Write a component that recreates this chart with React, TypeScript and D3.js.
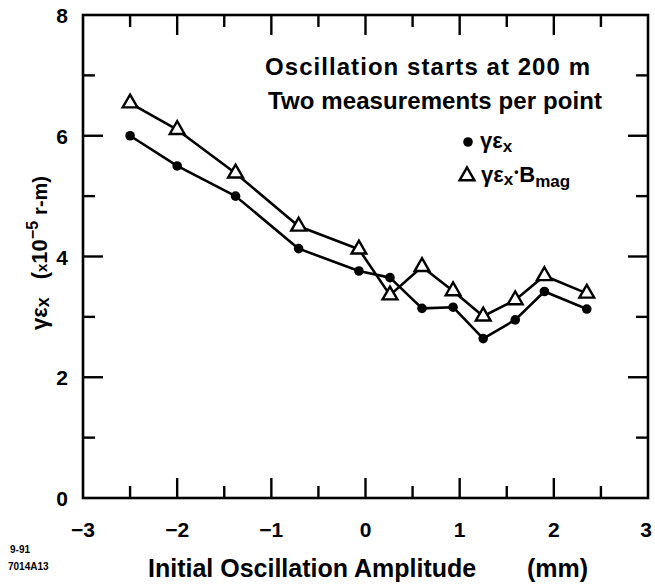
import React from "react";
import * as d3 from "d3";

const xValues = [-2.5, -2.0, -1.38, -0.71, -0.07, 0.26, 0.6, 0.93, 1.25, 1.59, 1.9, 2.35];
const emitValues = [6.0, 5.5, 5.0, 4.13, 3.76, 3.65, 3.14, 3.16, 2.64, 2.95, 3.42, 3.13];
const emitBmagValues = [6.54, 6.1, 5.38, 4.5, 4.12, 3.36, 3.83, 3.43, 3.01, 3.28, 3.68, 3.39];
const xTickLabels = ["−3", "−2", "−1", "0", "1", "2", "3"];
const yTickLabels = ["0", "2", "4", "6", "8"];
const xMajor = [-3, -2, -1, 0, 1, 2, 3];
const xMinor = [-2.5, -1.5, -0.5, 0.5, 1.5, 2.5];
const yMajor = [0, 2, 4, 6, 8];
const yMinor = [1, 3, 5, 7];

const W = 655;
const H = 584;
const L = 83, R = 648, T = 15, B = 498;
const FONT = "'Liberation Sans', Arial, Helvetica, sans-serif";

export default function App() {
  const x = d3.scaleLinear().domain([-3, 3]).range([L, R]);
  const y = d3.scaleLinear().domain([0, 8]).range([B, T]);
  const line = d3.line<number>().x((_, i) => x(xValues[i])).y((d) => y(d));
  const tri = d3.symbol().type(d3.symbolTriangle).size(95);
  const MAJ = 20, MIN = 12;
  const sw = 2.6;

  return (
    <svg width={W} height={H} style={{ position: "absolute", left: 0, top: 0, background: "#fff" }} fontFamily={FONT}>
      <rect x={0} y={0} width={W} height={H} fill="#fff" />
      <rect x={L} y={T} width={R - L} height={B - T} fill="none" stroke="#000" strokeWidth={2.6} />
      {xMajor.slice(1, -1).map((v) => (
        <g key={"xm" + v}>
          <line x1={x(v)} x2={x(v)} y1={B} y2={B - MAJ} stroke="#000" strokeWidth={2.4} />
          <line x1={x(v)} x2={x(v)} y1={T} y2={T + MAJ} stroke="#000" strokeWidth={2.4} />
        </g>
      ))}
      {xMinor.map((v) => (
        <g key={"xn" + v}>
          <line x1={x(v)} x2={x(v)} y1={B} y2={B - MIN} stroke="#000" strokeWidth={2.4} />
          <line x1={x(v)} x2={x(v)} y1={T} y2={T + MIN} stroke="#000" strokeWidth={2.4} />
        </g>
      ))}
      {yMajor.slice(1, -1).map((v) => (
        <g key={"ym" + v}>
          <line x1={L} x2={L + MAJ} y1={y(v)} y2={y(v)} stroke="#000" strokeWidth={2.4} />
          <line x1={R} x2={R - MAJ} y1={y(v)} y2={y(v)} stroke="#000" strokeWidth={2.4} />
        </g>
      ))}
      {yMinor.map((v) => (
        <g key={"yn" + v}>
          <line x1={L} x2={L + MIN} y1={y(v)} y2={y(v)} stroke="#000" strokeWidth={2.4} />
          <line x1={R} x2={R - MIN} y1={y(v)} y2={y(v)} stroke="#000" strokeWidth={2.4} />
        </g>
      ))}
      {xMajor.map((v, i) => (
        <text key={"xl" + v} x={Math.min(x(v), 646)} y={537} textAnchor="middle" fontSize={21} fontWeight="bold">
          {xTickLabels[i]}
        </text>
      ))}
      {yMajor.map((v, i) => (
        <text key={"yl" + v} x={68} y={y(v) + 8} textAnchor="end" fontSize={21} fontWeight="bold">
          {yTickLabels[i]}
        </text>
      ))}
      <path d={line(emitValues) || ""} fill="none" stroke="#000" strokeWidth={sw} strokeLinejoin="round" />
      <path d={line(emitBmagValues) || ""} fill="none" stroke="#000" strokeWidth={sw} strokeLinejoin="round" />
      {emitValues.map((v, i) => (
        <circle key={"c" + i} cx={x(xValues[i])} cy={y(v)} r={4.8} fill="#000" />
      ))}
      {emitBmagValues.map((v, i) => (
        <path key={"t" + i} d={tri() || ""} transform={`translate(${x(xValues[i])},${y(v)})`} fill="#fff" stroke="#000" strokeWidth={2.4} />
      ))}
      <text x={265} y={75} fontSize={24} fontWeight="bold" textLength={325} lengthAdjust="spacing">
        Oscillation starts at 200 m
      </text>
      <text x={268} y={109} fontSize={24} fontWeight="bold" textLength={334} lengthAdjust="spacing">
        Two measurements per point
      </text>
      <circle cx={468} cy={142} r={4.8} fill="#000" />
      <text x={480} y={148} fontSize={22} fontWeight="bold">
        γε<tspan fontSize={17} dy={4}>x</tspan>
      </text>
      <path d={tri() || ""} transform="translate(467,176)" fill="#fff" stroke="#000" strokeWidth={2.4} />
      <text x={481} y={182} fontSize={22} fontWeight="bold">
        γε<tspan fontSize={17} dy={3}>x</tspan>
        <tspan dy={-9} dx={1} fontSize={12}>•</tspan>
        <tspan dy={6} dx={1}>B</tspan>
        <tspan fontSize={17} dy={5}>mag</tspan>
      </text>
      <text transform="translate(47,330) rotate(-90)" fontSize={22} fontWeight="bold">
        γε<tspan fontSize={18} dy={2}>x</tspan>
        <tspan dy={-2} dx={18}>(</tspan>
        <tspan fontSize={15}>x</tspan>
        <tspan>10</tspan>
        <tspan fontSize={16} dy={-9}>−5</tspan>
        <tspan dy={9} dx={6} fontSize={20}>r-m)</tspan>
      </text>
      <text x={148} y={577} fontSize={25} fontWeight="bold">
        Initial Oscillation Amplitude
      </text>
      <text x={527} y={577} fontSize={25} fontWeight="bold">
        (mm)
      </text>
      <text x={10} y={553} fontSize={10} fontWeight="bold">9-91</text>
      <text x={8} y={570} fontSize={10} fontWeight="bold">7014A13</text>
    </svg>
  );
}
